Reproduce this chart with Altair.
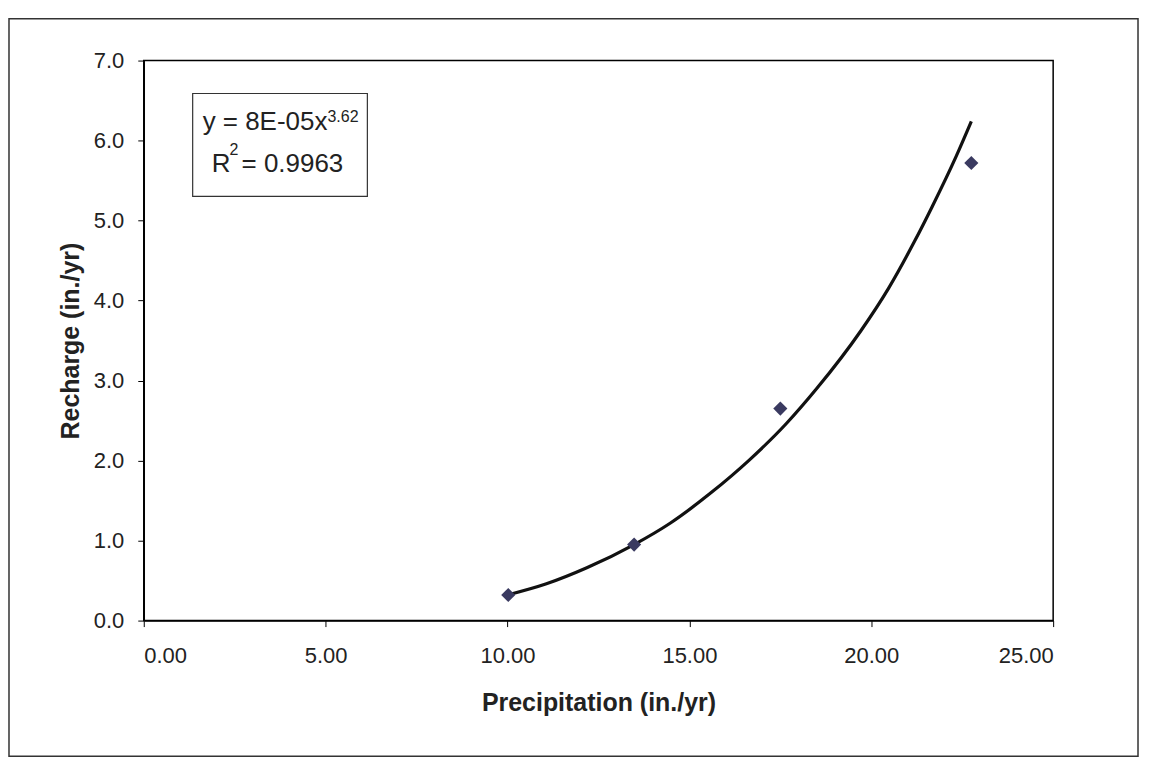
import altair as alt
import pandas as pd

# observed points
precip = [10.02, 13.48, 17.5, 22.75]
recharge = [0.32, 0.95, 2.65, 5.72]

# power trend line
curve_x = [10.0, 11.07, 12.18, 13.48, 14.48, 15.6, 16.63, 17.66, 18.5, 19.71, 20.47, 21.2, 21.68, 22.33, 22.75]
curve_y = [0.32, 0.46, 0.66, 0.95, 1.22, 1.60, 2.00, 2.46, 2.90, 3.62, 4.15, 4.75, 5.18, 5.80, 6.24]

x_ticks = [0, 5, 10, 15, 20, 25]
y_ticks = [0, 1, 2, 3, 4, 5, 6, 7]

pts = pd.DataFrame({"x": precip, "y": recharge})
crv = pd.DataFrame({"x": curve_x, "y": curve_y})

W, H = 911, 561
FONT = "Liberation Sans"

xs = alt.Scale(domain=[0, 25], nice=False)
ys = alt.Scale(domain=[0, 7], nice=False)

xaxis = alt.Axis(values=x_ticks, format=".2f", title="Precipitation (in./yr)",
                 grid=False, tickSize=6, labelPadding=19, titlePadding=24)
yaxis = alt.Axis(values=y_ticks, format=".1f", title="Recharge (in./yr)",
                 grid=False, tickSize=6, labelPadding=14, titlePadding=10)

frame = alt.Chart(pd.DataFrame({"a": [0]})).mark_rect(
    fill=None, stroke="#333333", strokeWidth=1.5, clip=False
).encode(x=alt.value(-135), x2=alt.value(996), y=alt.value(-42), y2=alt.value(697))

line = alt.Chart(crv).mark_line(color="#111111", strokeWidth=3.2, interpolate="monotone").encode(
    x=alt.X("x:Q", scale=xs, axis=xaxis),
    y=alt.Y("y:Q", scale=ys, axis=yaxis),
)

points = alt.Chart(pts).mark_point(shape="diamond", filled=True, color="#3a3a60",
                                   size=200, opacity=1).encode(
    x=alt.X("x:Q", scale=xs),
    y=alt.Y("y:Q", scale=ys),
)

box = alt.Chart(pd.DataFrame({"a": [0]})).mark_rect(
    fill="white", stroke="#333333", strokeWidth=1.2
).encode(x=alt.value(49), x2=alt.value(224), y=alt.value(33), y2=alt.value(136))

def txt(s, x, y, size):
    return alt.Chart(pd.DataFrame({"t": [s]})).mark_text(
        font=FONT, fontSize=size, align="left", baseline="alphabetic", color="#222222"
    ).encode(text="t:N", x=alt.value(x), y=alt.value(y))

eq1 = txt("y = 8E-05x", 59, 70, 26)
eq1s = txt("3.62", 184, 62, 16)
eq2 = txt("R", 68, 112, 26)
eq2s = txt("2", 86, 95, 16)
eq2b = txt("= 0.9963", 98, 112, 26)

chart = alt.layer(frame, line, points, box, eq1, eq1s, eq2, eq2s, eq2b).properties(
    width=W, height=H,
    autosize=alt.AutoSizeParams(type="none"),
    padding={"left": 136, "top": 52, "right": 88, "bottom": 140},
).configure_view(stroke="black", strokeWidth=1.5).configure_axis(
    labelFont=FONT, titleFont=FONT, labelFontSize=22, titleFontSize=25,
    titleFontWeight="bold", labelColor="#222222", titleColor="#222222",
    domainColor="black", tickColor="black", domainWidth=1.5,
)

chart.save("out.html", embed_options={"renderer": "svg", "actions": False})
